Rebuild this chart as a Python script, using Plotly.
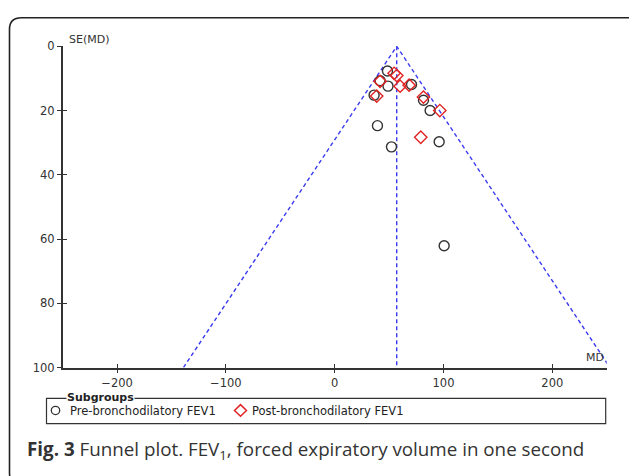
import plotly.graph_objects as go

W, H = 629, 476

# ---- data ----
pre_md = [48.5, 41.7, 49.0, 70.6, 36.2, 81.6, 87.7, 39.3, 52.2, 96.0, 100.6]
pre_se = [7.7, 10.7, 12.4, 11.9, 15.2, 16.8, 20.0, 24.7, 31.3, 29.7, 62.1]
post_md = [54.6, 57.1, 41.7, 60.1, 68.4, 38.6, 81.6, 96.6, 79.1]
post_se = [8.4, 9.1, 10.9, 12.4, 12.1, 15.5, 15.8, 20.0, 28.3]
pooled_md = 57.0
se_max = 100
x_ticks = [-200, -100, 0, 100, 200]
y_ticks = [0, 20, 40, 60, 80, 100]
x_range = [-250, 250]
y_range = [100, 0]
series_names = ["Pre-bronchodilatory FEV1", "Post-bronchodilatory FEV1"]


def px(x):
    return x / W


def py(y):
    return 1 - y / H


FONT = "DejaVu Sans"
AX = "#333333"
BLUE = "#3a3af0"
RED = "#e02424"

fig = go.Figure()

# funnel lines: pooled MD +/- 1.96*SE
fig.add_trace(go.Scatter(x=[pooled_md, pooled_md], y=[0, se_max], mode="lines",
                         line=dict(color=BLUE, width=1.4, dash="4px,3px"),
                         showlegend=False, hoverinfo="skip"))
fig.add_trace(go.Scatter(x=[pooled_md - 1.96 * se_max, pooled_md, pooled_md + 1.96 * se_max],
                         y=[se_max, 0, se_max], mode="lines",
                         line=dict(color=BLUE, width=1.4, dash="4px,3px"),
                         showlegend=False, hoverinfo="skip"))

fig.add_trace(go.Scatter(x=pre_md, y=pre_se, mode="markers", name=series_names[0],
                         marker=dict(symbol="circle-open", size=10, color=AX,
                                     line=dict(width=1.4, color=AX)),
                         showlegend=False))
fig.add_trace(go.Scatter(x=post_md, y=post_se, mode="markers", name=series_names[1],
                         marker=dict(symbol="diamond-open", size=9.5, color=RED,
                                     line=dict(width=1.4, color=RED)),
                         showlegend=False))

# invisible trace on overlay axes (for inside half of the cross ticks)
fig.add_trace(go.Scatter(x=[0], y=[0], xaxis="x2", yaxis="y2", mode="markers",
                         marker=dict(opacity=0), showlegend=False, hoverinfo="skip"))

xdom = [px(62.7), px(606.7)]
ydom = [py(371.5), py(40.5)]

axis_common = dict(showgrid=False, zeroline=False, ticklen=4, tickwidth=1.2, tickcolor=AX,
                   tickfont=dict(family=FONT, size=11.5, color=AX))

fig.update_layout(
    width=W, height=H, autosize=False,
    margin=dict(l=0, r=0, t=0, b=0),
    paper_bgcolor="white", plot_bgcolor="white",
    xaxis=dict(domain=xdom, range=x_range, tickvals=x_ticks,
               ticks="outside", showline=True, linecolor=AX, linewidth=1.5,
               anchor="y", **axis_common),
    yaxis=dict(domain=ydom, range=y_range, tickvals=y_ticks, ticks="outside",
               showline=True, linecolor=AX, linewidth=1.5, anchor="x", **axis_common),
    xaxis2=dict(domain=xdom, range=x_range, tickvals=x_ticks, ticks="inside",
                showticklabels=False, showline=False, overlaying="x", anchor="y",
                showgrid=False, zeroline=False, ticklen=4, tickwidth=1.2, tickcolor=AX),
    yaxis2=dict(domain=ydom, range=y_range, tickvals=y_ticks, ticks="inside",
                showticklabels=False, showline=False, overlaying="y", anchor="x",
                showgrid=False, zeroline=False, ticklen=4, tickwidth=1.2, tickcolor=AX),
    showlegend=False,
)

shapes = []
# outer rounded frame
x0, y0, x1, y1, r = 9.5, 11, 645, 492, 12
path = (f"M {px(x0 + r)},{py(y0)} L {px(x1 - r)},{py(y0)} "
        f"Q {px(x1)},{py(y0)} {px(x1)},{py(y0 + r)} L {px(x1)},{py(y1 - r)} "
        f"Q {px(x1)},{py(y1)} {px(x1 - r)},{py(y1)} L {px(x0 + r)},{py(y1)} "
        f"Q {px(x0)},{py(y1)} {px(x0)},{py(y1 - r)} L {px(x0)},{py(y0 + r)} "
        f"Q {px(x0)},{py(y0)} {px(x0 + r)},{py(y0)} Z")
shapes.append(dict(type="path", xref="paper", yref="paper", path=path,
                   line=dict(color="#222", width=1.6), layer="below"))
# legend box
shapes.append(dict(type="rect", xref="paper", yref="paper",
                   x0=px(46.5), x1=px(605.7), y0=py(429.3), y1=py(403.3),
                   line=dict(color=AX, width=1.2), layer="below"))
# legend symbols
cx, cy, cr = 55.5, 415.7, 4.2
shapes.append(dict(type="circle", xref="paper", yref="paper",
                   x0=px(cx - cr), x1=px(cx + cr), y0=py(cy + cr), y1=py(cy - cr),
                   line=dict(color=AX, width=1.3)))
dx, dy, dr = 240.5, 415.7, 6
dpath = (f"M {px(dx)},{py(dy - dr)} L {px(dx + dr)},{py(dy)} "
         f"L {px(dx)},{py(dy + dr)} L {px(dx - dr)},{py(dy)} Z")
shapes.append(dict(type="path", xref="paper", yref="paper", path=dpath,
                   line=dict(color=RED, width=1.5)))
fig.update_layout(shapes=shapes)

ann = [
    dict(text="SE(MD)", x=px(67), y=py(33), xanchor="left", yanchor="middle",
         font=dict(family=FONT, size=11, color=AX)),
    dict(text="MD", x=px(606), y=py(361), xanchor="right", yanchor="middle",
         font=dict(family=FONT, size=11, color=AX)),
    dict(text="<b>Subgroups</b>", x=px(66), y=py(402.5), xanchor="left", yanchor="middle",
         bgcolor="white", borderpad=0, font=dict(family=FONT, size=11, color="#222")),
    dict(text=series_names[0], x=px(67.5), y=py(416), xanchor="left", yanchor="middle",
         font=dict(family=FONT, size=11.5, color="#222")),
    dict(text=series_names[1], x=px(249.5), y=py(416), xanchor="left", yanchor="middle",
         font=dict(family=FONT, size=11.5, color="#222")),
    dict(text="<b>Fig. 3</b> Funnel plot. FEV<sub>1</sub>, forced expiratory volume in one second",
         x=px(25), y=py(456), xanchor="left", yanchor="middle",
         font=dict(family="Open Sans", size=18.8, color="#333")),
]
for a in ann:
    a.update(xref="paper", yref="paper", showarrow=False)
fig.update_layout(annotations=ann)

fig.write_html("out.html", config={"displayModeBar": False},
               post_script="document.body.style.margin='0';")
